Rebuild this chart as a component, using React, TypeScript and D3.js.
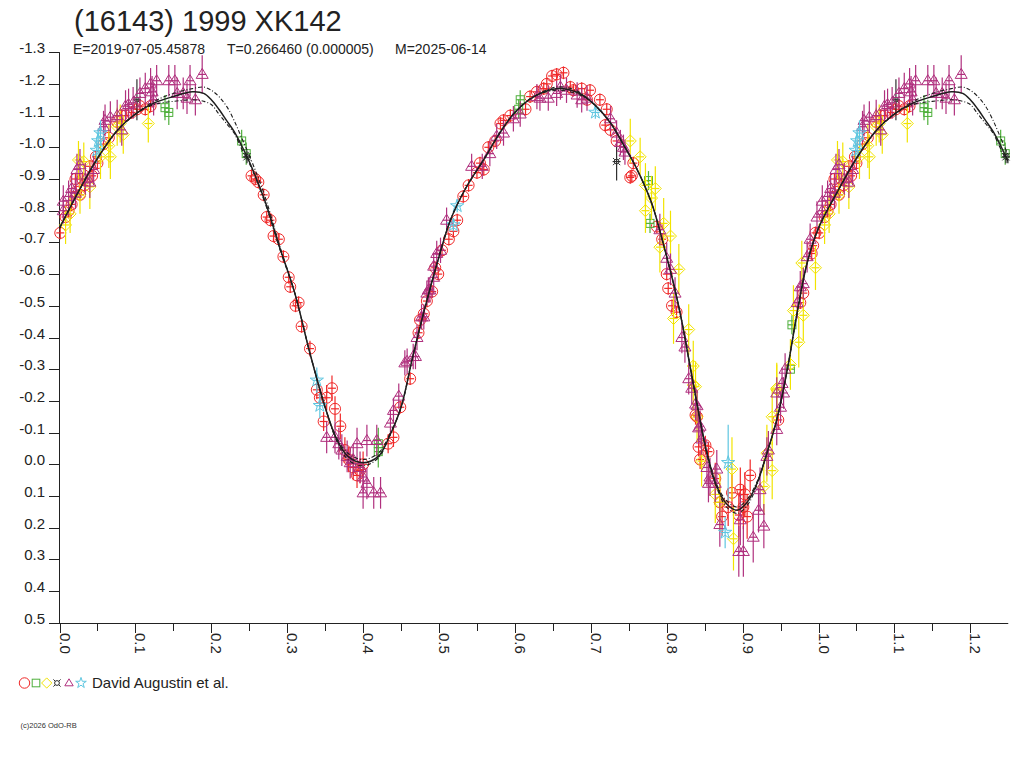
import React, { useEffect, useRef } from "react";
import * as d3 from "d3";

// [phase, magnitude, error]
type Obs = [number, number, number];

const redCircles: Obs[] = [
  [0.001, -0.73, 0.02], [0.008, -0.78, 0.02], [0.012, -0.8, 0.02], [0.016, -0.82, 0.02],
  [0.021, -0.9, 0.02], [0.022, -0.86, 0.02], [0.027, -0.85, 0.02], [0.03, -0.9, 0.02],
  [0.033, -0.88, 0.02], [0.04, -0.94, 0.02], [0.043, -0.91, 0.02], [0.048, -0.97, 0.02],
  [0.05, -0.95, 0.02], [0.058, -1.01, 0.02], [0.065, -1.03, 0.02], [0.076, -1.08, 0.02],
  [0.082, -1.1, 0.02], [0.087, -1.1, 0.02], [0.095, -1.11, 0.02], [0.102, -1.12, 0.02],
  [0.106, -1.13, 0.02], [0.113, -1.12, 0.02], [0.12, -1.13, 0.02],
  [0.253, -0.91, 0.02], [0.258, -0.9, 0.02], [0.262, -0.89, 0.02], [0.269, -0.85, 0.02],
  [0.273, -0.78, 0.02], [0.278, -0.77, 0.02], [0.282, -0.72, 0.02], [0.289, -0.71, 0.02],
  [0.295, -0.655, 0.02], [0.302, -0.59, 0.02], [0.304, -0.56, 0.02], [0.311, -0.5, 0.02],
  [0.315, -0.51, 0.02], [0.319, -0.435, 0.02], [0.33, -0.365, 0.025], [0.339, -0.235, 0.03],
  [0.343, -0.21, 0.03], [0.348, -0.135, 0.03], [0.352, -0.21, 0.04], [0.359, -0.24, 0.04],
  [0.363, -0.175, 0.04], [0.37, -0.12, 0.04], [0.376, -0.045, 0.04], [0.381, -0.015, 0.04],
  [0.387, 0.01, 0.04], [0.392, 0.035, 0.04], [0.396, 0.02, 0.04], [0.4, 0.0, 0.04],
  [0.433, -0.065, 0.03], [0.44, -0.085, 0.03], [0.449, -0.18, 0.02], [0.462, -0.27, 0.02],
  [0.473, -0.415, 0.02], [0.475, -0.455, 0.02], [0.48, -0.475, 0.02], [0.484, -0.515, 0.02],
  [0.491, -0.545, 0.02], [0.495, -0.62, 0.02], [0.499, -0.6, 0.02], [0.504, -0.675, 0.02],
  [0.513, -0.71, 0.02], [0.519, -0.735, 0.02], [0.524, -0.77, 0.02], [0.532, -0.845, 0.02],
  [0.539, -0.88, 0.02], [0.55, -0.92, 0.02], [0.554, -0.95, 0.02], [0.559, -0.93, 0.02],
  [0.565, -1.0, 0.02], [0.574, -1.02, 0.02], [0.581, -1.075, 0.02], [0.585, -1.085, 0.02],
  [0.594, -1.1, 0.02], [0.614, -1.12, 0.02], [0.62, -1.16, 0.02], [0.629, -1.175, 0.02],
  [0.638, -1.185, 0.02], [0.642, -1.2, 0.02], [0.649, -1.225, 0.02], [0.655, -1.23, 0.02],
  [0.664, -1.235, 0.02], [0.673, -1.19, 0.02], [0.677, -1.18, 0.02], [0.688, -1.185, 0.02],
  [0.695, -1.15, 0.02], [0.699, -1.18, 0.02], [0.712, -1.15, 0.02], [0.719, -1.07, 0.02],
  [0.721, -1.12, 0.02], [0.726, -1.055, 0.02], [0.734, -1.02, 0.02], [0.752, -0.905, 0.02],
  [0.754, -0.91, 0.02], [0.756, -0.95, 0.02], [0.787, -0.75, 0.02], [0.794, -0.71, 0.02],
  [0.8, -0.6, 0.02], [0.802, -0.555, 0.02], [0.807, -0.5, 0.02], [0.813, -0.48, 0.02],
  [0.838, -0.155, 0.03], [0.84, -0.15, 0.03], [0.842, -0.055, 0.03], [0.844, -0.015, 0.03],
  [0.851, -0.06, 0.03], [0.855, -0.04, 0.03], [0.864, 0.045, 0.05], [0.87, 0.12, 0.06],
  [0.873, 0.165, 0.06], [0.881, 0.135, 0.06], [0.886, 0.09, 0.06], [0.895, 0.16, 0.07],
  [0.897, 0.08, 0.07], [0.901, 0.135, 0.07], [0.903, 0.095, 0.07], [0.906, 0.165, 0.07],
  [0.91, 0.035, 0.05], [0.947, -0.14, 0.03], [0.976, -0.51, 0.02], [0.98, -0.54, 0.02],
  [0.991, -0.665, 0.02], [0.993, -0.69, 0.02], [0.996, -0.73, 0.02],
];

const greenSquares: Obs[] = [
  [0.139, -1.125, 0.04], [0.144, -1.11, 0.04], [0.24, -1.02, 0.035], [0.246, -0.98, 0.035],
  [0.42, -0.065, 0.05], [0.42, -0.04, 0.05], [0.605, -1.12, 0.03], [0.607, -1.15, 0.03],
  [0.776, -0.895, 0.03], [0.778, -0.76, 0.03], [0.963, -0.3, 0.03], [0.965, -0.44, 0.03],
];

const yellowDiamonds: Obs[] = [
  [0.008, -0.755, 0.06], [0.014, -0.79, 0.06], [0.025, -0.96, 0.06], [0.027, -0.85, 0.06],
  [0.032, -0.955, 0.06], [0.04, -0.875, 0.07], [0.054, -0.97, 0.07], [0.065, -1.005, 0.07],
  [0.067, -0.97, 0.07], [0.076, -1.065, 0.06], [0.08, -1.075, 0.06], [0.084, -1.04, 0.06],
  [0.117, -1.075, 0.06], [0.752, -1.02, 0.07], [0.765, -0.97, 0.06], [0.772, -0.88, 0.07],
  [0.772, -0.8, 0.07], [0.78, -0.84, 0.07], [0.785, -0.87, 0.07], [0.791, -0.685, 0.08],
  [0.796, -0.76, 0.08], [0.805, -0.72, 0.08], [0.809, -0.46, 0.08], [0.816, -0.615, 0.08],
  [0.829, -0.425, 0.08], [0.835, -0.31, 0.08], [0.835, -0.25, 0.08], [0.838, -0.245, 0.08],
  [0.84, -0.15, 0.08], [0.846, -0.01, 0.08], [0.864, 0.095, 0.09], [0.87, 0.12, 0.09],
  [0.886, 0.015, 0.1], [0.888, 0.235, 0.1], [0.928, 0.07, 0.09], [0.932, -0.035, 0.09],
  [0.939, 0.02, 0.09], [0.939, -0.15, 0.09], [0.945, -0.235, 0.08], [0.945, -0.24, 0.08],
  [0.963, -0.315, 0.08], [0.967, -0.485, 0.08], [0.974, -0.385, 0.08], [0.978, -0.635, 0.07],
  [0.98, -0.47, 0.08], [0.996, -0.62, 0.07],
];

const blackCurrency: Obs[] = [
  [0.102, -1.15, 0.065], [0.247, -0.97, 0.02], [0.734, -0.955, 0.06],
];

const purpleTriangles: Obs[] = [
  [0.005, -0.83, 0.05], [0.005, -0.8, 0.04], [0.012, -0.845, 0.05], [0.016, -0.87, 0.05],
  [0.021, -0.855, 0.05], [0.023, -0.93, 0.05], [0.027, -0.945, 0.05], [0.034, -0.9, 0.05],
  [0.04, -0.89, 0.05], [0.045, -0.93, 0.05], [0.058, -1.065, 0.05], [0.06, -1.085, 0.05],
  [0.067, -1.095, 0.05], [0.076, -1.1, 0.05], [0.082, -1.055, 0.05], [0.087, -1.13, 0.05],
  [0.091, -1.135, 0.05], [0.097, -1.14, 0.05], [0.106, -1.17, 0.05], [0.113, -1.185, 0.05],
  [0.12, -1.2, 0.05], [0.122, -1.175, 0.05], [0.124, -1.15, 0.05], [0.128, -1.21, 0.05],
  [0.144, -1.21, 0.05], [0.152, -1.21, 0.05], [0.155, -1.17, 0.05], [0.163, -1.17, 0.05],
  [0.168, -1.155, 0.05], [0.172, -1.21, 0.05], [0.179, -1.15, 0.05], [0.188, -1.23, 0.06],
  [0.352, -0.085, 0.05], [0.363, -0.085, 0.05], [0.368, -0.065, 0.05], [0.372, -0.045, 0.05],
  [0.379, -0.025, 0.05], [0.383, -0.005, 0.05], [0.387, -0.015, 0.05], [0.392, -0.065, 0.05],
  [0.396, 0.01, 0.05], [0.4, 0.04, 0.05], [0.4, 0.09, 0.05], [0.405, -0.075, 0.05],
  [0.405, 0.06, 0.05], [0.414, 0.09, 0.05], [0.418, -0.075, 0.05], [0.423, 0.09, 0.05],
  [0.436, -0.13, 0.04], [0.44, -0.17, 0.04], [0.447, -0.215, 0.04], [0.455, -0.32, 0.04],
  [0.458, -0.325, 0.04], [0.466, -0.34, 0.04], [0.469, -0.34, 0.04], [0.471, -0.4, 0.04],
  [0.477, -0.465, 0.04], [0.48, -0.465, 0.04], [0.484, -0.54, 0.04], [0.486, -0.55, 0.04],
  [0.488, -0.55, 0.04], [0.493, -0.59, 0.04], [0.493, -0.625, 0.04], [0.497, -0.665, 0.04],
  [0.502, -0.675, 0.04], [0.51, -0.77, 0.04], [0.543, -0.94, 0.04], [0.557, -0.94, 0.04],
  [0.567, -0.98, 0.04], [0.576, -1.035, 0.04], [0.585, -1.045, 0.04], [0.598, -1.09, 0.04],
  [0.607, -1.105, 0.04], [0.629, -1.16, 0.04], [0.633, -1.155, 0.04], [0.644, -1.155, 0.04],
  [0.655, -1.17, 0.04], [0.66, -1.19, 0.04], [0.668, -1.18, 0.04], [0.682, -1.165, 0.04],
  [0.688, -1.15, 0.04], [0.695, -1.155, 0.04], [0.726, -1.09, 0.04], [0.734, -1.045, 0.04],
  [0.739, -1.015, 0.04], [0.743, -1.0, 0.04], [0.745, -0.985, 0.04], [0.791, -0.74, 0.05],
  [0.8, -0.65, 0.05], [0.805, -0.615, 0.05], [0.811, -0.54, 0.05], [0.82, -0.4, 0.05],
  [0.824, -0.37, 0.05], [0.829, -0.27, 0.05], [0.833, -0.24, 0.05], [0.838, -0.19, 0.05],
  [0.84, -0.185, 0.05], [0.842, -0.115, 0.05], [0.844, -0.12, 0.05], [0.846, -0.08, 0.05],
  [0.853, 0.01, 0.06], [0.855, 0.06, 0.06], [0.857, 0.04, 0.06], [0.864, 0.06, 0.06],
  [0.866, 0.015, 0.06], [0.87, 0.19, 0.07], [0.895, 0.275, 0.08], [0.897, 0.175, 0.08],
  [0.901, 0.275, 0.08], [0.914, 0.23, 0.08], [0.921, 0.145, 0.07], [0.923, 0.08, 0.07],
  [0.928, 0.195, 0.07], [0.932, -0.025, 0.06], [0.934, -0.045, 0.06], [0.945, -0.11, 0.05],
  [0.945, -0.225, 0.05], [0.95, -0.18, 0.05], [0.952, -0.255, 0.05], [0.954, -0.225, 0.05],
  [0.956, -0.3, 0.05], [0.972, -0.51, 0.05], [0.976, -0.56, 0.05], [0.98, -0.57, 0.05],
  [0.985, -0.655, 0.05], [0.989, -0.71, 0.05], [0.998, -0.78, 0.05],
];

const cyanStars: Obs[] = [
  [0.049, -0.99, 0.04], [0.051, -1.02, 0.04], [0.054, -1.045, 0.04], [0.339, -0.265, 0.04],
  [0.343, -0.185, 0.04], [0.519, -0.755, 0.02], [0.524, -0.815, 0.02], [0.706, -1.11, 0.02],
  [0.877, 0.215, 0.05], [0.881, -0.005, 0.12],
];

// fitted lightcurve (three solutions)
const fitPhase = [
  0, 0.025, 0.05, 0.075, 0.1, 0.125, 0.15, 0.175, 0.19, 0.2, 0.21, 0.22, 0.23, 0.24, 0.25,
  0.27, 0.29, 0.31, 0.33, 0.35, 0.365, 0.38, 0.4, 0.42, 0.435, 0.45, 0.465, 0.48, 0.5,
  0.515, 0.535, 0.56, 0.58, 0.6, 0.625, 0.655, 0.68, 0.7, 0.725, 0.745, 0.76, 0.78, 0.79,
  0.8, 0.81, 0.82, 0.83, 0.84, 0.853, 0.866, 0.879, 0.893, 0.906, 0.919, 0.932, 0.945,
  0.959, 0.972, 0.985,
];
const fitMain = [
  -0.745, -0.86, -0.965, -1.05, -1.105, -1.14, -1.16, -1.175, -1.17, -1.15, -1.12, -1.085,
  -1.05, -1.005, -0.955, -0.835, -0.685, -0.54, -0.35, -0.18, -0.08, -0.025, -0.005,
  -0.025, -0.09, -0.18, -0.335, -0.48, -0.655, -0.77, -0.87, -0.965, -1.045, -1.11, -1.16,
  -1.185, -1.175, -1.145, -1.08, -1.0, -0.935, -0.825, -0.745, -0.655, -0.56, -0.45, -0.32,
  -0.19, -0.035, 0.07, 0.125, 0.145, 0.12, 0.06, -0.035, -0.14, -0.3, -0.48, -0.635,
];
const fitUpper = [
  -0.745, -0.86, -0.965, -1.05, -1.105, -1.145, -1.17, -1.185, -1.19, -1.18, -1.16, -1.13,
  -1.085, -1.03, -0.975, -0.85, -0.69, -0.54, -0.35, -0.18, -0.075, -0.015, 0.005,
  -0.02, -0.09, -0.18, -0.335, -0.48, -0.655, -0.77, -0.87, -0.965, -1.045, -1.11, -1.16,
  -1.19, -1.18, -1.145, -1.08, -1.0, -0.935, -0.825, -0.745, -0.655, -0.56, -0.45, -0.32,
  -0.19, -0.03, 0.075, 0.135, 0.155, 0.13, 0.065, -0.035, -0.14, -0.3, -0.48, -0.635,
];
const fitLower = [
  -0.745, -0.86, -0.965, -1.05, -1.105, -1.135, -1.145, -1.15, -1.145, -1.135, -1.105,
  -1.075, -1.045, -0.995, -0.95, -0.83, -0.68, -0.54, -0.35, -0.18, -0.085, -0.035, -0.015,
  -0.035, -0.095, -0.18, -0.335, -0.48, -0.655, -0.77, -0.87, -0.965, -1.045, -1.11, -1.16,
  -1.18, -1.17, -1.145, -1.08, -1.0, -0.935, -0.825, -0.745, -0.655, -0.56, -0.45, -0.32,
  -0.19, -0.04, 0.065, 0.115, 0.135, 0.11, 0.055, -0.035, -0.14, -0.3, -0.48, -0.635,
];

const yTicks = [-1.3, -1.2, -1.1, -1.0, -0.9, -0.8, -0.7, -0.6, -0.5, -0.4, -0.3, -0.2, -0.1, 0, 0.1, 0.2, 0.3, 0.4, 0.5];
const yLabels = ["-1.3", "-1.2", "-1.1", "-1.0", "-0.9", "-0.8", "-0.7", "-0.6", "-0.5", "-0.4", "-0.3", "-0.2", "-0.1", "0.0", "0.1", "0.2", "0.3", "0.4", "0.5"];
const xTicks = [0, 0.1, 0.2, 0.3, 0.4, 0.5, 0.6, 0.7, 0.8, 0.9, 1.0, 1.1, 1.2];
const xLabels = ["0.0", "0.1", "0.2", "0.3", "0.4", "0.5", "0.6", "0.7", "0.8", "0.9", "1.0", "1.1", "1.2"];
const xMinorTicks = [0.05, 0.15, 0.25, 0.35, 0.45, 0.55, 0.65, 0.75, 0.85, 0.95, 1.05, 1.15];

const title = "(16143) 1999 XK142";
const subtitle = ["E=2019-07-05.45878", "T=0.266460 (0.000005)", "M=2025-06-14"];
const observer = "David Augustin et al.";
const copyright = "(c)2026 OdO-RB";

const FONT = "'Liberation Sans', Arial, sans-serif";
const INK = "#222";

type Shape = "circle" | "square" | "diamond" | "currency" | "triangle" | "star";

function addMarker(
  g: d3.Selection<SVGGElement, unknown, null, undefined>,
  shape: Shape,
  cx: number,
  cy: number,
  color: string,
  s = 1
) {
  const m = g.append("g").attr("transform", `translate(${cx},${cy})`)
    .attr("fill", "none").attr("stroke", color).attr("stroke-width", 1);
  if (shape === "circle") m.append("circle").attr("r", 5.5 * s);
  if (shape === "square") m.append("rect").attr("x", -4 * s).attr("y", -4 * s).attr("width", 8 * s).attr("height", 8 * s);
  if (shape === "diamond") m.append("path").attr("d", `M0,${-6 * s}L${6 * s},0L0,${6 * s}L${-6 * s},0Z`);
  if (shape === "triangle") m.append("path").attr("d", `M0,${-6 * s}L${6 * s},${4 * s}L${-6 * s},${4 * s}Z`);
  if (shape === "star") m.append("path").attr("d", d3.symbol(d3.symbolStar, 55 * s * s)()!);
  if (shape === "currency") {
    m.append("circle").attr("r", 2.4);
    [[-1, -1], [1, -1], [1, 1], [-1, 1]].forEach(([a, b]) => {
      m.append("line").attr("x1", a * 1.7).attr("y1", b * 1.7).attr("x2", a * 3.6).attr("y2", b * 3.6);
    });
  }
}

function wrapPhase<T extends number[]>(rows: T[]): T[] {
  return rows.concat(rows.filter((r) => r[0] <= 0.25).map((r) => [r[0] + 1, ...r.slice(1)] as T));
}

export default function App() {
  const svgRef = useRef<SVGSVGElement>(null);

  useEffect(() => {
    if (!svgRef.current) return;
    const svg = d3.select(svgRef.current);
    svg.selectAll("*").remove();

    const x = d3.scaleLinear().domain([0, 1.25]).range([59.5, 1008.25]);
    const y = d3.scaleLinear().domain([-1.3, 0.5]).range([52.2, 622.8]);
    const x0 = x(0);
    const yBase = 623;

    const series: { shape: Shape; color: string; data: Obs[] }[] = [
      { shape: "circle", color: "#f02828", data: redCircles },
      { shape: "square", color: "#4fb03c", data: greenSquares },
      { shape: "diamond", color: "#f2e400", data: yellowDiamonds },
      { shape: "currency", color: "#303030", data: blackCurrency },
      { shape: "triangle", color: "#b0307e", data: purpleTriangles },
      { shape: "star", color: "#5ec6e0", data: cyanStars },
    ];

    // title block
    svg.append("text").attr("x", 74).attr("y", 31).text(title)
      .style("font-family", FONT).style("font-size", "29px").style("fill", INK);
    [73, 227, 395].forEach((tx, i) => {
      svg.append("text").attr("x", tx).attr("y", 54).text(subtitle[i])
        .style("font-family", FONT).style("font-size", "14px").style("fill", INK);
    });

    // axes
    const ax = svg.append("g").attr("stroke", INK).attr("stroke-width", 1);
    ax.append("line").attr("x1", x0).attr("x2", x0).attr("y1", y(-1.3)).attr("y2", yBase);
    ax.append("line").attr("x1", 49).attr("x2", x(1.25)).attr("y1", yBase + 0.5).attr("y2", yBase + 0.5);
    yTicks.forEach((v, i) => {
      const ty = Math.round(y(v)) + 0.5;
      ax.append("line").attr("x1", 49).attr("x2", x0).attr("y1", ty).attr("y2", ty);
      svg.append("text").attr("x", 45).attr("y", ty + 0.5).attr("text-anchor", "end")
        .text(yLabels[i]).style("font-family", FONT).style("font-size", "15px").style("fill", INK);
    });
    xTicks.forEach((v, i) => {
      const tx = Math.round(x(v)) + 0.5;
      ax.append("line").attr("x1", tx).attr("x2", tx).attr("y1", yBase).attr("y2", yBase + 10);
      svg.append("text").attr("transform", `translate(${tx - 0.5},${yBase + 10}) rotate(90)`)
        .text(xLabels[i]).style("font-family", FONT).style("font-size", "15px").style("fill", INK);
    });
    xMinorTicks.forEach((v) => {
      const tx = Math.round(x(v)) + 0.5;
      ax.append("line").attr("x1", tx).attr("x2", tx).attr("y1", yBase).attr("y2", yBase + 8);
    });

    // observations with error bars
    const plot = svg.append("g");
    series.forEach((s) => {
      const g = plot.append("g");
      wrapPhase(s.data).forEach(([p, m, e]) => {
        if (p > 1.25) return;
        const cx = x(p);
        const cy = y(m);
        g.append("line").attr("x1", cx).attr("x2", cx).attr("y1", y(m - e)).attr("y2", y(m + e))
          .attr("stroke", s.color).attr("stroke-width", 1.2);
        g.append("line").attr("x1", cx - 4).attr("x2", cx + 4).attr("y1", cy).attr("y2", cy)
          .attr("stroke", s.color).attr("stroke-width", 1.2);
        addMarker(g, s.shape, cx, cy, s.color);
      });
    });

    // fitted curves
    const line = d3.line<number[]>().x((d) => x(d[0])).y((d) => y(d[1])).curve(d3.curveCatmullRom.alpha(0.5));
    const fits: { vals: number[]; dash: string | null; w: number }[] = [
      { vals: fitUpper, dash: "4,2,1,2", w: 1.1 },
      { vals: fitLower, dash: "4,2,1,2", w: 1.1 },
      { vals: fitMain, dash: null, w: 1.5 },
    ];
    fits.forEach((f) => {
      const pts = wrapPhase(fitPhase.map((p, i) => [p, f.vals[i]]));
      svg.append("path").attr("d", line(pts)).attr("fill", "none").attr("stroke", "#1e1e1e")
        .attr("stroke-width", f.w).attr("stroke-dasharray", f.dash);
    });

    // legend
    const lg = svg.append("g");
    const legendX = [24.5, 36, 46.7, 57, 69, 81];
    const legendScale = [0.95, 0.95, 0.85, 1, 0.7, 0.8];
    series.forEach((s, i) => addMarker(lg, s.shape, legendX[i], 683, s.color, legendScale[i]));
    svg.append("text").attr("x", 92).attr("y", 688).text(observer)
      .style("font-family", FONT).style("font-size", "15px").style("fill", INK);

    svg.append("text").attr("x", 20.5).attr("y", 728).text(copyright)
      .style("font-family", FONT).style("font-size", "7.5px").style("fill", "#333");
  }, []);

  return (
    <svg
      ref={svgRef}
      width={1024}
      height={768}
      style={{ position: "absolute", left: 0, top: 0, background: "#fff" }}
    />
  );
}
